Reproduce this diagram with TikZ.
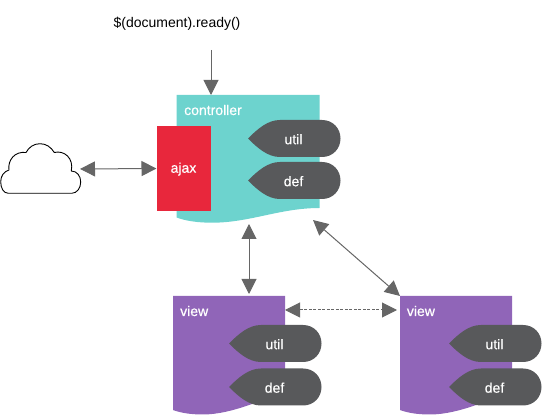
\documentclass[tikz,border=0pt]{standalone}
\usepackage{fontspec}
\setmainfont{Liberation Sans}
\newfontfamily\whitefont[FakeBold=0.5]{Liberation Sans}
\usetikzlibrary{arrows.meta}
\definecolor{ctrlteal}{HTML}{6DD3CE}
\definecolor{ajaxred}{HTML}{E8273C}
\definecolor{viewpurple}{HTML}{9065B8}
\definecolor{leafgray}{HTML}{58595B}
\definecolor{arrowgray}{HTML}{666666}
\tikzset{
  lbl/.style={font=\fontsize{14}{16}\selectfont, inner sep=0pt},
  whitelbl/.style={font=\whitefont\fontsize{14}{16}\selectfont, inner sep=0pt, text=white, anchor=base},
  extent/.style={inner sep=0pt, outer sep=0pt},
  link/.style={draw=arrowgray, line width=1pt, {Triangle[length=15pt,width=15pt]}-{Triangle[length=15pt,width=15pt]}},
  oneway/.style={draw=arrowgray, line width=1pt, -{Triangle[length=15pt,width=15pt]}},
}
% #1 name, #2 tip x, #3 centre y, #4 text
\newcommand{\leafshape}[4]{%
  \fill[leafgray] (#2,#3) .. controls (#2+10,#3-10) and (#2+20,#3-18.5) .. (#2+32,#3-18.5)
    -- (#2+74,#3-18.5) .. controls (#2+85,#3-18.5) and (#2+92.5,#3-10) .. (#2+92.5,#3)
    .. controls (#2+92.5,#3+10) and (#2+85,#3+18.5) .. (#2+74,#3+18.5)
    -- (#2+32,#3+18.5) .. controls (#2+20,#3+18.5) and (#2+10,#3+10) .. (#2,#3) -- cycle;
  \node[whitelbl] (#1) at (#2+45.5,#3+5.7) {#4};%
}
% #1 name, #2 left x
\newcommand{\viewshape}[2]{%
  \fill[viewpurple] (#2,296) -- (#2+112,296) -- (#2+112,392)
    .. controls (#2+95,397) and (#2+60,414.5) .. (#2+30,414.5)
    .. controls (#2+18,414.5) and (#2+8,413) .. (#2,410) -- cycle;
  \node[extent, minimum width=112pt, minimum height=118pt] (#1) at (#2+56,355) {};%
}
\begin{document}
\begin{tikzpicture}[x=1pt,y=-1pt]
\useasboundingbox (0,0) rectangle (542,417);
\node[lbl] (ready) at (177,24) {\$(document).ready()};
\coordinate (readyout) at (211,50);

% cloud
\draw[black, line width=0.9pt, fill=white, line join=round]
  (8.3,193.3) .. controls (3.5,193.3) and (0.7,188) .. (0.7,181.7)
  .. controls (0.7,176) and (4,171.5) .. (9,170)
  .. controls (7.5,160) and (15,151) .. (26,152.5)
  .. controls (29,147) and (34,143.7) .. (40,143.7)
  .. controls (46,143.7) and (51,147) .. (54.3,152.5)
  .. controls (64,150) and (74,158) .. (71.3,171)
  .. controls (77,171) and (80.7,176) .. (80.7,182)
  .. controls (80.7,188) and (77,193.3) .. (71.7,193.3) -- cycle;
\node[extent, minimum width=80pt, minimum height=50pt] (cloud) at (40,169) {};

% controller
\fill[ctrlteal] (176.5,95) -- (319.5,95) -- (319.5,208)
  .. controls (280,208) and (250,222.7) .. (212,222.7)
  .. controls (198,222.7) and (186,221) .. (176.5,217.5) -- cycle;
\node[extent, minimum width=143pt, minimum height=127pt] (ctrl) at (248,158.5) {};
\node[whitelbl, anchor=base west] (ctrllabel) at (184,115) {controller};
\node[fill=ajaxred, extent, minimum width=54pt, minimum height=84.5pt] (ajaxbox) at (183.5,168.5) {};
\node[whitelbl] (ajaxlabel) at (183.5,172.7) {ajax};
\leafshape{cutil}{248}{138.5}{util}
\leafshape{cdef}{248}{180.5}{def}

% views
\viewshape{viewa}{173}
\node[whitelbl, anchor=base west] (viewalabel) at (180,316) {view};
\leafshape{autil}{229}{343.5}{util}
\leafshape{adef}{229}{387}{def}
\viewshape{viewb}{400}
\node[whitelbl, anchor=base west] (viewblabel) at (406.7,316) {view};
\leafshape{butil}{449}{343.5}{util}
\leafshape{bdef}{449}{387}{def}

% connectors
\draw[oneway] (readyout) -- (readyout |- ctrl.north);
\draw[link] (cloud.east) -- (ajaxbox.west);
\draw[link, shorten <=2pt, shorten >=2pt] ([xshift=1pt]ctrl.south) -- ([xshift=1pt]ctrl.south |- viewa.north);
\draw[link] ([shift={(-6.5,-2)}]ctrl.south east) -- (viewb.north west);
\draw[link, dashed, dash pattern=on 3pt off 1.5pt] ([shift={(0,14)}]viewa.north east) -- ([shift={(-3,14)}]viewb.north west);
\end{tikzpicture}
\end{document}
